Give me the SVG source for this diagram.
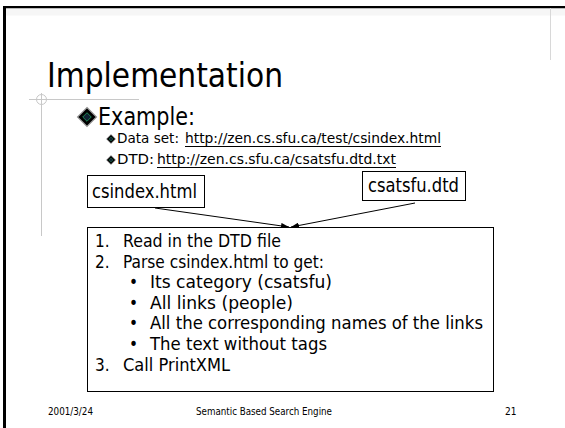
<svg xmlns="http://www.w3.org/2000/svg" width="565" height="428" viewBox="0 0 565 428">
<style>
.t{font-family:"DejaVu Sans Condensed","DejaVu Sans","Liberation Sans",sans-serif;fill:#000}
.box{fill:#fff;stroke:#000;stroke-width:1}
.guide{stroke:#c8c8c8;stroke-width:1;fill:none}
.conn{stroke:#000;stroke-width:1;fill:none}
.ul{stroke:#000;stroke-width:1}
</style>
<defs>
<marker id="ah" markerWidth="8" markerHeight="6" refX="8" refY="3" orient="auto" markerUnits="userSpaceOnUse">
<path d="M0,0 L8,3 L0,6 z" fill="#000"/>
</marker>
<g id="dia">
<polygon points="0,-1 1,0 0,1 -1,0" fill="#000" stroke="#999" stroke-width="0.12"/>
<polygon points="0,-0.45 0.45,0 0,0.45 -0.45,0" fill="#123" stroke="#2a6" stroke-width="0.08"/>
</g>
</defs>
<rect width="565" height="428" fill="#fff"/>
<!-- slide frame -->
<rect x="3" y="6" width="562" height="2.5" fill="#000"/>
<rect x="3" y="6" width="3" height="422" fill="#000"/>
<rect x="6" y="8.5" width="559" height="7" fill="#f6f6f6"/>
<line x1="550.5" y1="8" x2="550.5" y2="60" stroke="#d8d8d8"/>
<!-- guides -->
<line class="guide" x1="29" y1="99.5" x2="139" y2="99.5"/>
<line class="guide" x1="41.5" y1="93" x2="41.5" y2="236"/>
<circle class="guide" cx="41.5" cy="99.5" r="5"/>
<!-- title -->
<text class="t" x="47" y="87" font-size="33" textLength="236" lengthAdjust="spacingAndGlyphs">Implementation</text>
<use href="#dia" transform="translate(87,117) scale(9.5)"/>
<text class="t" x="98" y="125" font-size="25" textLength="97" lengthAdjust="spacingAndGlyphs">Example:</text>
<use href="#dia" transform="translate(111,139) scale(4.5)"/>
<text class="t" x="117" y="143" font-size="14" textLength="62" lengthAdjust="spacingAndGlyphs">Data set:</text>
<text class="t" x="185" y="143" font-size="14" textLength="256" lengthAdjust="spacingAndGlyphs">http://zen.cs.sfu.ca/test/csindex.html</text>
<line class="ul" x1="185" y1="146.5" x2="441" y2="146.5"/>
<use href="#dia" transform="translate(111,160) scale(4.5)"/>
<text class="t" x="117" y="164" font-size="14" textLength="37" lengthAdjust="spacingAndGlyphs">DTD:</text>
<text class="t" x="157" y="164" font-size="14" textLength="239" lengthAdjust="spacingAndGlyphs">http://zen.cs.sfu.ca/csatsfu.dtd.txt</text>
<line class="ul" x1="157" y1="167.5" x2="396" y2="167.5"/>
<!-- connectors -->
<g id="connectors">
<line class="conn" x1="155" y1="208" x2="289" y2="227" marker-end="url(#ah)"/>
<line class="conn" x1="415" y1="203" x2="291" y2="227" marker-end="url(#ah)"/>
</g>
<!-- nodes -->
<g id="node-csindex">
<rect class="box" x="87.5" y="175.5" width="117" height="32"/>
<text class="t" x="92" y="198" font-size="19" textLength="105" lengthAdjust="spacingAndGlyphs">csindex.html</text>
</g>
<g id="node-csatsfu">
<rect class="box" x="362.5" y="171.5" width="103" height="29"/>
<text class="t" x="368" y="192" font-size="19" textLength="91" lengthAdjust="spacingAndGlyphs">csatsfu.dtd</text>
</g>
<g id="node-steps">
<rect class="box" x="87.5" y="227.5" width="406" height="164"/>
<g class="t" font-size="17">
<text x="95" y="247">1.</text>
<text x="123" y="247" textLength="158" lengthAdjust="spacingAndGlyphs">Read in the DTD file</text>
<text x="95" y="268">2.</text>
<text x="123" y="268" textLength="201" lengthAdjust="spacingAndGlyphs">Parse csindex.html to get:</text>
<text x="129" y="288">•</text>
<text x="150" y="288" textLength="182" lengthAdjust="spacingAndGlyphs">Its category (csatsfu)</text>
<text x="129" y="309">•</text>
<text x="150" y="309" textLength="143" lengthAdjust="spacingAndGlyphs">All links (people)</text>
<text x="129" y="329">•</text>
<text x="150" y="329" textLength="333" lengthAdjust="spacingAndGlyphs">All the corresponding names of the links</text>
<text x="129" y="350">•</text>
<text x="150" y="350" textLength="177" lengthAdjust="spacingAndGlyphs">The text without tags</text>
<text x="95" y="371">3.</text>
<text x="123" y="371" textLength="107" lengthAdjust="spacingAndGlyphs">Call PrintXML</text>
</g>
</g>
<!-- footer -->
<text class="t" x="48" y="415" font-size="10" textLength="45" lengthAdjust="spacingAndGlyphs">2001/3/24</text>
<text class="t" x="196" y="415" font-size="10" textLength="136" lengthAdjust="spacingAndGlyphs">Semantic Based Search Engine</text>
<text class="t" x="505" y="415" font-size="10">21</text>
</svg>
